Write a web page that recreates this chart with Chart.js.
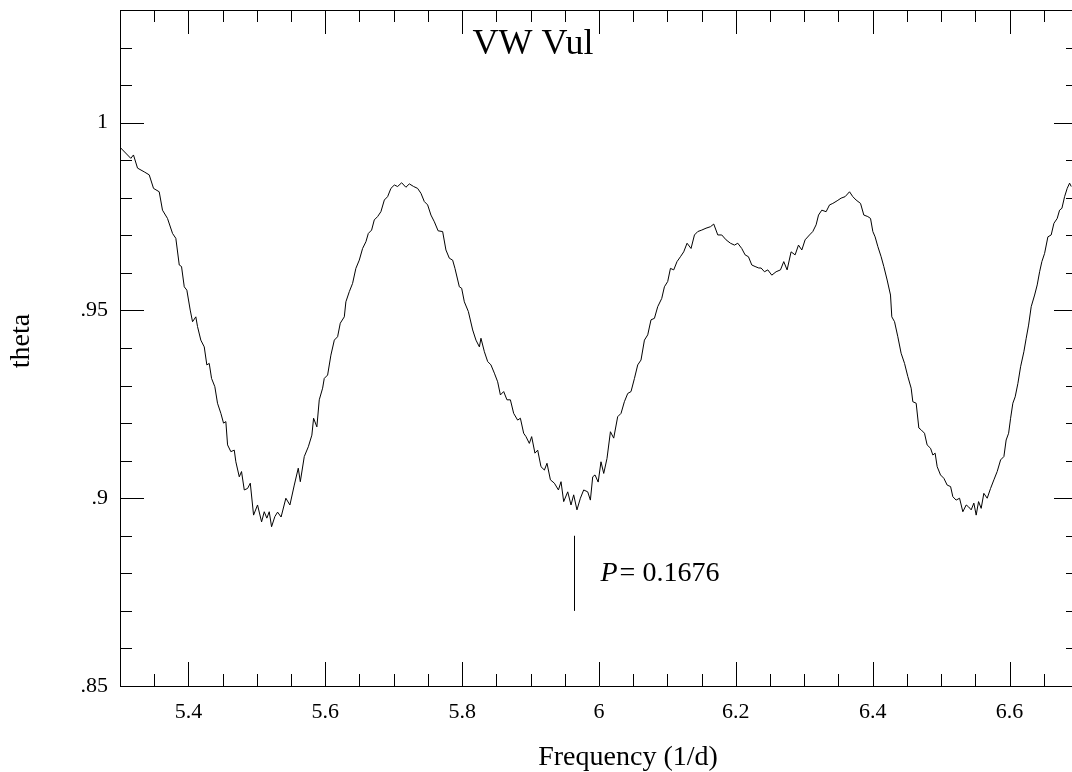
<!DOCTYPE html>
<html lang="en">
<head>
<meta charset="UTF-8">
<title>VW Vul - theta periodogram</title>
<script src="https://cdn.jsdelivr.net/npm/chart.js"></script>
<style>
  html, body { margin: 0; padding: 0; background: #fff; overflow: hidden; }
  #wrap { width: 1080px; height: 772px; }
</style>
</head>
<body>
<div id="wrap"><canvas id="pdm" width="1080" height="772"></canvas></div>
<script>
// frequency (1/d)
const freq = [
  5.3003, 5.3158, 5.3197, 5.3256, 5.3354, 5.3427, 5.3490, 5.3573, 5.3621, 5.3694,
  5.3768, 5.3816, 5.3866, 5.3899, 5.3939, 5.3977, 5.4026, 5.4060, 5.4108, 5.4133,
  5.4181, 5.4231, 5.4269, 5.4304, 5.4338, 5.4386, 5.4425, 5.4474, 5.4513, 5.4547,
  5.4572, 5.4620, 5.4670, 5.4693, 5.4743, 5.4776, 5.4816, 5.4864, 5.4904, 5.4952,
  5.5010, 5.5069, 5.5108, 5.5146, 5.5181, 5.5215, 5.5263, 5.5303, 5.5354, 5.5424,
  5.5483, 5.5547, 5.5605, 5.5635, 5.5693, 5.5752, 5.5804, 5.5829, 5.5877, 5.5912,
  5.5961, 5.5985, 5.6034, 5.6082, 5.6132, 5.6180, 5.6219, 5.6278, 5.6301, 5.6351,
  5.6399, 5.6447, 5.6497, 5.6545, 5.6594, 5.6629, 5.6677, 5.6716, 5.6765, 5.6813,
  5.6863, 5.6911, 5.6959, 5.7009, 5.7057, 5.7116, 5.7178, 5.7228, 5.7291, 5.7349,
  5.7398, 5.7447, 5.7496, 5.7544, 5.7594, 5.7649, 5.7715, 5.7763, 5.7813, 5.7861,
  5.7895, 5.7959, 5.7993, 5.8032, 5.8091, 5.8154, 5.8202, 5.8252, 5.8275, 5.8325,
  5.8373, 5.8421, 5.8471, 5.8519, 5.8559, 5.8607, 5.8655, 5.8705, 5.8753, 5.8811,
  5.8851, 5.8899, 5.8933, 5.8982, 5.9016, 5.9064, 5.9104, 5.9152, 5.9202, 5.9240,
  5.9290, 5.9348, 5.9407, 5.9445, 5.9484, 5.9543, 5.9591, 5.9630, 5.9678, 5.9728,
  5.9776, 5.9835, 5.9874, 5.9908, 5.9942, 5.9988, 6.0029, 6.0069, 6.0117, 6.0167,
  6.0215, 6.0273, 6.0322, 6.0371, 6.0420, 6.0468, 6.0518, 6.0566, 6.0614, 6.0664,
  6.0712, 6.0760, 6.0810, 6.0858, 6.0917, 6.0956, 6.1004, 6.1044, 6.1092, 6.1140,
  6.1190, 6.1238, 6.1287, 6.1345, 6.1395, 6.1443, 6.1502, 6.1564, 6.1629, 6.1677,
  6.1736, 6.1794, 6.1857, 6.1921, 6.1980, 6.2028, 6.2086, 6.2135, 6.2184, 6.2233,
  6.2281, 6.2335, 6.2369, 6.2418, 6.2467, 6.2525, 6.2588, 6.2652, 6.2700, 6.2749,
  6.2807, 6.2866, 6.2915, 6.2964, 6.3012, 6.3076, 6.3124, 6.3173, 6.3208, 6.3256,
  6.3319, 6.3369, 6.3417, 6.3480, 6.3538, 6.3597, 6.3661, 6.3709, 6.3757, 6.3822,
  6.3870, 6.3928, 6.3968, 6.4002, 6.4035, 6.4075, 6.4123, 6.4162, 6.4211, 6.4260,
  6.4279, 6.4319, 6.4367, 6.4415, 6.4465, 6.4513, 6.4562, 6.4586, 6.4635, 6.4674,
  6.4708, 6.4757, 6.4795, 6.4845, 6.4879, 6.4912, 6.4942, 6.4991, 6.5040, 6.5088,
  6.5138, 6.5171, 6.5219, 6.5269, 6.5317, 6.5366, 6.5401, 6.5439, 6.5478, 6.5512,
  6.5547, 6.5585, 6.5624, 6.5673, 6.5722, 6.5771, 6.5819, 6.5869, 6.5917, 6.5950,
  6.5986, 6.6015, 6.6048, 6.6082, 6.6122, 6.6161, 6.6209, 6.6243, 6.6278, 6.6316,
  6.6366, 6.6404, 6.6439, 6.6472, 6.6512, 6.6560, 6.6608, 6.6648, 6.6696, 6.6731,
  6.6765, 6.6804, 6.6842, 6.6877, 6.6901
];

// theta statistic
const theta = [
  0.9934, 0.9905, 0.9914, 0.9879, 0.9869, 0.9861, 0.9825, 0.9816, 0.9767, 0.9745,
  0.9705, 0.9692, 0.9621, 0.9617, 0.9563, 0.9554, 0.9501, 0.9470, 0.9483, 0.9457,
  0.9421, 0.9403, 0.9355, 0.9359, 0.9319, 0.9297, 0.9253, 0.9226, 0.9200, 0.9204,
  0.9142, 0.9124, 0.9128, 0.9097, 0.9057, 0.9071, 0.9022, 0.9026, 0.9040, 0.8955,
  0.8982, 0.8937, 0.8964, 0.8947, 0.8964, 0.8924, 0.8951, 0.8963, 0.8950, 0.9000,
  0.8982, 0.9035, 0.9080, 0.9044, 0.9111, 0.9137, 0.9168, 0.9213, 0.9190, 0.9262,
  0.9293, 0.9319, 0.9328, 0.9381, 0.9421, 0.9430, 0.9466, 0.9483, 0.9523, 0.9550,
  0.9572, 0.9612, 0.9634, 0.9665, 0.9683, 0.9705, 0.9714, 0.9741, 0.9750, 0.9763,
  0.9794, 0.9803, 0.9825, 0.9834, 0.9830, 0.9840, 0.9828, 0.9837, 0.9830, 0.9825,
  0.9812, 0.9790, 0.9781, 0.9754, 0.9736, 0.9712, 0.9710, 0.9661, 0.9639, 0.9634,
  0.9612, 0.9563, 0.9559, 0.9523, 0.9497, 0.9448, 0.9421, 0.9403, 0.9426, 0.9390,
  0.9364, 0.9355, 0.9333, 0.9310, 0.9275, 0.9284, 0.9262, 0.9262, 0.9226, 0.9208,
  0.9213, 0.9173, 0.9164, 0.9146, 0.9164, 0.9120, 0.9128, 0.9084, 0.9075, 0.9093,
  0.9049, 0.9040, 0.9022, 0.9044, 0.8991, 0.9017, 0.8982, 0.9009, 0.8969, 0.9000,
  0.9022, 0.9017, 0.8995, 0.9057, 0.9062, 0.9043, 0.9097, 0.9066, 0.9106, 0.9177,
  0.9160, 0.9217, 0.9226, 0.9257, 0.9279, 0.9284, 0.9319, 0.9355, 0.9368, 0.9421,
  0.9435, 0.9475, 0.9479, 0.9510, 0.9532, 0.9563, 0.9577, 0.9612, 0.9608, 0.9630,
  0.9643, 0.9656, 0.9679, 0.9665, 0.9701, 0.9710, 0.9714, 0.9719, 0.9723, 0.9730,
  0.9701, 0.9701, 0.9688, 0.9679, 0.9674, 0.9679, 0.9665, 0.9648, 0.9643, 0.9621,
  0.9617, 0.9613, 0.9613, 0.9603, 0.9608, 0.9594, 0.9603, 0.9608, 0.9630, 0.9608,
  0.9656, 0.9648, 0.9674, 0.9661, 0.9688, 0.9701, 0.9710, 0.9728, 0.9754, 0.9767,
  0.9763, 0.9781, 0.9785, 0.9792, 0.9799, 0.9803, 0.9816, 0.9803, 0.9794, 0.9785,
  0.9754, 0.9750, 0.9745, 0.9710, 0.9696, 0.9670, 0.9643, 0.9617, 0.9581, 0.9541,
  0.9483, 0.9470, 0.9430, 0.9386, 0.9359, 0.9324, 0.9293, 0.9257, 0.9253, 0.9187,
  0.9182, 0.9173, 0.9142, 0.9133, 0.9115, 0.9120, 0.9084, 0.9062, 0.9053, 0.9035,
  0.9031, 0.9004, 0.8995, 0.9000, 0.8964, 0.8982, 0.8977, 0.8969, 0.8987, 0.8955,
  0.8991, 0.8973, 0.9013, 0.9000, 0.9026, 0.9049, 0.9071, 0.9102, 0.9111, 0.9155,
  0.9173, 0.9213, 0.9253, 0.9270, 0.9306, 0.9350, 0.9390, 0.9426, 0.9461, 0.9510,
  0.9541, 0.9568, 0.9603, 0.9630, 0.9652, 0.9696, 0.9701, 0.9732, 0.9745, 0.9767,
  0.9772, 0.9803, 0.9825, 0.9839, 0.9830
];

const xTicks = [5.4, 5.6, 5.8, 6, 6.2, 6.4, 6.6];
const yTicks = [0.85, 0.9, 0.95, 1];
const xRange = [5.3, 6.7];
const yRange = [0.85, 1.03];
const xMinorStep = 0.05;
const yMinorStep = 0.01;

const starName = "VW Vul";
const xTitle = "Frequency (1/d)";
const yTitle = "theta";
const periodFreq = 5.9634;          // marked minimum
const periodMark = [0.870, 0.890];  // extent of the marker line
const periodLabel = "0.1676";

const serif = "'Liberation Serif', 'Times New Roman', serif";
Chart.defaults.font.family = serif;
Chart.defaults.color = "#000";

function fmt(v) {
    const s = String(Math.round(v * 100) / 100);
    return s.replace(/^0\./, ".");
}

function isMajor(v, list) {
    return list.some(t => Math.abs(t - v) < 1e-6);
}

// box, inward ticks on all four sides, and the text
const frame = {
    id: "frame",
    afterDatasetsDraw(chart) {
        const { ctx, chartArea: a, scales: { x, y } } = chart;
        ctx.save();
        ctx.strokeStyle = "#000";
        ctx.lineWidth = 1;
        ctx.beginPath();
        ctx.rect(a.left + 0.5, a.top + 0.5, a.right - a.left, a.bottom - a.top);

        const nx = Math.round((xRange[1] - xRange[0]) / xMinorStep);
        for (let i = 0; i <= nx; i++) {
            const v = xRange[0] + i * xMinorStep;
            const px = Math.round(x.getPixelForValue(v)) + 0.5;
            const len = isMajor(v, xTicks) ? 24 : 12;
            ctx.moveTo(px, a.bottom); ctx.lineTo(px, a.bottom - len);
            ctx.moveTo(px, a.top); ctx.lineTo(px, a.top + len);
        }
        const ny = Math.round((yRange[1] - yRange[0]) / yMinorStep);
        for (let i = 0; i <= ny; i++) {
            const v = yRange[0] + i * yMinorStep;
            const py = Math.round(y.getPixelForValue(v)) + 0.5;
            const len = isMajor(v, yTicks) ? 24 : 12;
            ctx.moveTo(a.left, py); ctx.lineTo(a.left + len, py);
            ctx.moveTo(a.right, py); ctx.lineTo(a.right - len, py);
        }

        // period marker
        const mx = Math.round(x.getPixelForValue(periodFreq)) + 0.5;
        ctx.moveTo(mx, y.getPixelForValue(periodMark[0]));
        ctx.lineTo(mx, y.getPixelForValue(periodMark[1]));
        ctx.stroke();

        ctx.fillStyle = "#000";
        ctx.textBaseline = "middle";

        // P = 0.1676
        const ly = y.getPixelForValue((periodMark[0] + periodMark[1]) / 2);
        let lx = mx + 26;
        ctx.textAlign = "left";
        ctx.font = "italic 28px " + serif;
        ctx.fillText("P", lx, ly);
        lx += ctx.measureText("P").width + 2;
        ctx.font = "28px " + serif;
        ctx.fillText("= " + periodLabel, lx, ly);

        // star name
        ctx.textAlign = "center";
        ctx.font = "36px " + serif;
        ctx.fillText(starName, 533, 45);

        // axis titles
        ctx.font = "28px " + serif;
        ctx.fillText(xTitle, 628, 758);
        ctx.save();
        ctx.translate(22, 341);
        ctx.rotate(-Math.PI / 2);
        ctx.fillText(yTitle, 0, 0);
        ctx.restore();

        ctx.restore();
    }
};

const points = freq.map((f, i) => ({ x: f, y: theta[i] }));

new Chart(document.getElementById("pdm").getContext("2d"), {
    type: "line",
    data: {
        datasets: [{
            data: points,
            borderColor: "#000",
            borderWidth: 1,
            pointRadius: 0,
            tension: 0,
            fill: false
        }]
    },
    options: {
        responsive: false,
        animation: false,
        devicePixelRatio: 1,
        layout: { padding: { top: 10, right: 2, left: 0, bottom: 0 } },
        plugins: { legend: { display: false }, tooltip: { enabled: false } },
        scales: {
            x: {
                type: "linear",
                min: xRange[0],
                max: xRange[1],
                grid: { display: false, drawTicks: false },
                border: { display: false },
                afterBuildTicks: s => { s.ticks = xTicks.map(v => ({ value: v })); },
                afterFit: s => { s.height = 86; s.paddingLeft = 0; s.paddingRight = 0; },
                ticks: {
                    font: { size: 22 },
                    padding: 13,
                    maxRotation: 0,
                    autoSkip: false,
                    callback: v => fmt(v)
                }
            },
            y: {
                min: yRange[0],
                max: yRange[1],
                grid: { display: false, drawTicks: false },
                border: { display: false },
                afterBuildTicks: s => { s.ticks = yTicks.map(v => ({ value: v })); },
                afterFit: s => { s.width = 120; s.paddingTop = 0; s.paddingBottom = 0; },
                ticks: {
                    font: { size: 22 },
                    padding: 12,
                    autoSkip: false,
                    callback: v => fmt(v)
                }
            }
        }
    },
    plugins: [frame]
});
</script>
</body>
</html>
